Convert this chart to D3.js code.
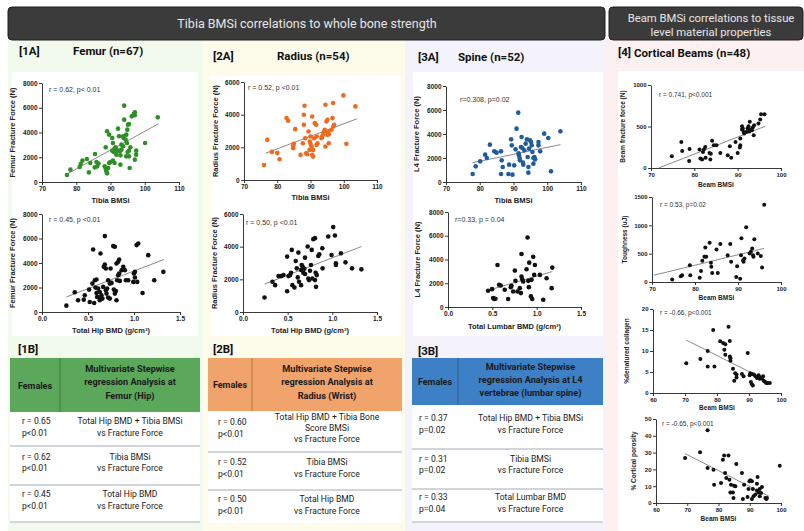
<!DOCTYPE html>
<html><head><meta charset="utf-8">
<script src="https://cdn.jsdelivr.net/npm/d3@7"></script>
<style>body{margin:0;background:#fff}svg{display:block}</style>
</head><body><script>
// ---------- DATA ----------
const femurVsTibiaBMSi = [[77.3,566],[78.3,997],[81.0,1212],[81.8,1724],[81.3,1455],[83.1,1859],[83.7,781],[84.1,1536],[85.5,2263],[85.9,1616],[86.1,1266],[85.4,1185],[88.6,2802],[89.0,4095],[88.3,1266],[88.6,1051],[88.8,862],[89.0,700],[89.3,1131],[89.6,1536],[90.0,1616],[90.7,1724],[91.2,1536],[90.5,3556],[89.6,3825],[90.7,3152],[90.5,2532],[91.0,2424],[91.7,2532],[92.2,4310],[92.5,3691],[92.7,2478],[92.9,2155],[93.2,2613],[92.9,1401],[91.5,2802],[93.7,2883],[93.8,3556],[94.0,6169],[94.0,5038],[94.6,3825],[94.4,3421],[94.9,4230],[95.1,4634],[95.4,4688],[94.8,3152],[95.0,2424],[94.6,2074],[95.4,2074],[95.6,1131],[95.4,2532],[95.8,2802],[96.2,5307],[96.8,5496],[97.1,5630],[97.1,5388],[97.1,1805],[97.5,2209],[97.5,2532],[100.1,3152],[103.8,5226],[93.7,3691],[91.7,2209],[91.2,2694],[92.3,2532],[93.2,3017],[86.5,1500]];
const femurVsTibiaFit = [[77,600],[104,4700]];

const femurVsHipBMD = [[0.265,519],[0.356,1611],[0.392,956],[0.454,1010],[0.465,1365],[0.512,1829],[0.519,819],[0.548,2320],[0.556,5105],[0.567,737],[0.574,2593],[0.592,2648],[0.592,1556],[0.599,1229],[0.610,1911],[0.621,1174],[0.628,1638],[0.636,4778],[0.646,1365],[0.657,1092],[0.665,2048],[0.672,3686],[0.683,6197],[0.683,3877],[0.694,3549],[0.694,1775],[0.701,1502],[0.708,1911],[0.719,1174],[0.737,1092],[0.737,2320],[0.745,3549],[0.756,2375],[0.774,5378],[0.792,5324],[0.781,1829],[0.792,1502],[0.803,1720],[0.810,3959],[0.828,4095],[0.839,4286],[0.817,2594],[0.828,3003],[0.839,3140],[0.846,2539],[0.865,3413],[0.883,3686],[0.890,3467],[0.901,3413],[0.912,2594],[0.937,2594],[0.992,2457],[0.999,3140],[1.010,3276],[1.010,2812],[1.028,5460],[1.046,5597],[1.035,2457],[1.093,1556],[1.155,4641],[1.220,2594],[1.319,3276],[0.628,956],[0.581,1993],[0.719,2594],[0.810,956]];
const femurVsHipFit = [[0.265,1229],[1.326,4286]];

const radiusVsTibiaBMSi = [[76.0,922],[77.0,2458],[78.4,1720],[80.0,1659],[80.7,1270],[82.8,3789],[83.3,3625],[84.8,2110],[84.8,1946],[85.0,2212],[85.4,3113],[87.0,1536],[87.7,2253],[88.0,3379],[88.0,3994],[88.2,4546],[88.4,2560],[88.7,1638],[89.0,1577],[89.4,2970],[89.7,1843],[89.8,2355],[90.0,2212],[90.0,2662],[90.3,2048],[90.5,3891],[90.5,1536],[90.8,1433],[90.8,1843],[91.1,2560],[91.3,3482],[91.7,3379],[91.8,2150],[91.9,2662],[92.1,2253],[93.3,2560],[93.5,2662],[93.8,2806],[94.1,2970],[94.3,3072],[94.5,2048],[94.5,4608],[94.8,3584],[95.1,3686],[95.1,2765],[95.3,2929],[95.5,2806],[95.5,2253],[96.3,3072],[96.6,3789],[96.8,4710],[96.9,3277],[97.1,3379],[99.9,5181],[100.8,2212],[103.5,4505]];
const radiusVsTibiaFit = [[76.5,1640],[104,3750]];

const radiusVsHipBMD = [[0.241,884],[0.330,1850],[0.360,1644],[0.397,2199],[0.427,2199],[0.453,2260],[0.494,3391],[0.494,1274],[0.527,2260],[0.538,2404],[0.546,3802],[0.553,1644],[0.576,1500],[0.590,3124],[0.602,2672],[0.613,2117],[0.620,3637],[0.627,1850],[0.650,1644],[0.650,2569],[0.657,2877],[0.668,2774],[0.676,2404],[0.687,2651],[0.694,2322],[0.694,3329],[0.724,4007],[0.731,2055],[0.739,1952],[0.750,2528],[0.761,2877],[0.769,3802],[0.776,2055],[0.787,4459],[0.806,4521],[0.806,1952],[0.813,2404],[0.817,1541],[0.825,2260],[0.843,3432],[0.854,3535],[0.888,3905],[0.891,2672],[0.954,4624],[0.991,3494],[1.010,5199],[1.029,4685],[1.040,2980],[1.040,2877],[1.096,3596],[1.147,3041],[1.221,2672],[1.325,2610],[0.509,2199]];
const radiusVsHipFit = [[0.241,1706],[1.325,4007]];

const spineVsTibiaBMSi = [[77.9,667],[78.8,1306],[80.1,1722],[81.6,2278],[82.1,2000],[83.0,3111],[84.3,2556],[85.0,2444],[86.3,2556],[86.5,1806],[86.8,1250],[86.3,667],[88.7,1444],[88.5,667],[89.3,3556],[89.5,3056],[89.7,611],[90.2,1389],[90.6,2722],[90.9,4444],[91.4,5778],[91.6,2222],[91.8,2000],[91.9,1806],[92.2,2917],[92.4,3750],[92.6,2833],[92.8,1611],[92.9,1444],[93.2,2639],[94.0,3556],[94.2,2083],[94.4,1250],[94.4,778],[94.6,2778],[94.9,3472],[95.2,3333],[95.4,3056],[95.6,2500],[95.9,2000],[95.9,1528],[96.2,2083],[96.4,1889],[97.4,3056],[97.4,3333],[97.9,2556],[99.1,4028],[100.3,3667],[101.1,889],[103.9,4222],[93.6,3194],[91.5,2400]];
const spineVsTibiaFit = [[77.9,1611],[103.9,3111]];

const spineVsLumbarBMD = [[0.452,1366],[0.497,1505],[0.509,752],[0.520,669],[0.535,697],[0.558,3539],[0.576,1867],[0.595,1812],[0.640,1449],[0.678,669],[0.708,1672],[0.716,1784],[0.735,1310],[0.754,3066],[0.761,2202],[0.784,1310],[0.810,1589],[0.822,1171],[0.829,2564],[0.829,4459],[0.837,2341],[0.848,2146],[0.886,3177],[0.897,5853],[0.905,2202],[0.912,1672],[0.916,3734],[0.935,892],[0.950,669],[0.961,4236],[0.972,2703],[0.980,3539],[1.036,2703],[1.074,613],[1.112,2425],[1.169,1589],[1.176,3316],[0.942,2285]];
const spineVsLumbarFit = [[0.497,1505],[1.176,2982]];

const beamForceVsBMSi = [[74.8,141],[77.0,314],[77.2,206],[78.9,230],[78.8,85],[81.2,222],[81.4,113],[81.8,101],[82.0,194],[82.2,222],[82.5,254],[82.6,125],[83.5,181],[83.7,101],[83.8,173],[84.1,327],[84.5,274],[85.1,274],[86.0,181],[87.7,153],[88.2,262],[88.5,125],[89.5,314],[90.0,181],[90.5,246],[90.6,274],[90.6,355],[91.0,504],[91.0,464],[91.2,476],[91.4,435],[91.5,415],[92.0,435],[92.3,476],[92.5,504],[92.8,556],[92.9,464],[93.3,456],[93.5,488],[93.7,395],[93.8,516],[94.8,536],[95.2,585],[95.4,649],[96.2,649],[92.7,440]];
const beamForceFit = [[71.8,0],[96.4,504]];

const toughnessVsBMSi = [[74.7,42],[76.7,101],[77.0,119],[78.8,296],[78.9,119],[81.1,77],[81.4,196],[81.7,374],[82.2,445],[82.4,611],[82.6,445],[83.4,694],[83.7,338],[83.8,267],[84.0,160],[85.0,575],[85.3,160],[85.9,670],[87.6,474],[88.2,670],[88.4,356],[89.6,89],[89.8,279],[90.5,59],[90.7,474],[90.8,771],[91.2,385],[91.3,356],[91.5,415],[91.9,966],[92.7,504],[93.0,534],[93.3,593],[93.5,474],[93.6,445],[93.8,753],[94.6,504],[95.3,457],[95.6,255],[96.1,1364]];
const toughnessFit = [[70.4,119],[96.1,593]];

const collagenVsBMSi = [[70.4,7.1],[74.8,8.1],[77.1,10.0],[77.1,6.3],[78.8,15.0],[79.2,6.3],[81.0,12.3],[81.9,11.9],[82.3,10.3],[82.6,11.6],[82.6,9.1],[83.6,15.8],[84.0,12.4],[84.0,8.7],[84.2,8.3],[84.2,7.7],[85.0,5.8],[85.4,2.9],[85.7,4.7],[86.1,4.4],[86.1,3.7],[87.8,4.5],[88.3,4.0],[89.6,9.5],[90.2,4.2],[90.4,4.7],[90.6,2.6],[90.9,2.1],[91.2,1.8],[90.9,4.5],[91.5,4.4],[92.0,4.0],[92.5,3.6],[93.0,4.2],[93.3,3.4],[93.8,3.7],[94.4,4.0],[94.6,2.9],[95.1,2.6],[95.4,2.4],[95.8,2.4],[96.5,2.4],[94.1,3.4]];
const collagenFit = [[70.4,12.6],[90.5,4.9]];

const porosityVsBMSi = [[69.3,26.8],[74.1,30.2],[76.5,43.3],[76.5,20.8],[78.4,19.8],[78.6,10.9],[80.8,11.9],[81.4,25.8],[81.8,28.2],[82.1,17.9],[82.5,14.9],[83.2,28.2],[83.5,13.9],[83.8,6.3],[84.0,10.9],[84.6,6.3],[84.8,3.0],[85.0,10.3],[85.4,9.9],[85.7,23.2],[87.5,17.9],[87.8,2.4],[88.2,10.9],[89.3,3.6],[89.9,12.9],[90.2,13.5],[90.7,2.4],[90.7,12.9],[91.0,8.3],[91.2,4.0],[91.8,5.0],[92.3,7.5],[92.5,15.5],[92.8,6.3],[93.2,8.3],[93.2,4.0],[93.6,6.0],[93.9,9.5],[92.3,11.5],[95.0,3.0],[95.3,2.4],[95.5,3.0],[99.6,22.2],[89.6,8.3]];
const porosityFit = [[69.3,29.4],[96.1,4.0]];

const bmsiTicks = [70,80,90,100,110];
const bmdTicks = [0,0.5,1.0,1.5];
const force8000Ticks = [0,2000,4000,6000,8000];
const force6000Ticks = [0,2000,4000,6000];
const beamBmsiTicks = [70,80,90,100];
const beamBmsiTicks60 = [60,70,80,90,100];
const beamForceTicks = [0,500,1000];
const toughnessTicks = [0,500,1000,1500];
const collagenTicks = [0,5,10,15,20];
const porosityTicks = [0,10,20,30,40,50];

const tableFemur = [
  {r:'r = 0.65', p:'p<0.01', desc:['Total Hip BMD + Tibia BMSi','vs Fracture Force']},
  {r:'r = 0.62', p:'p<0.01', desc:['Tibia BMSi','vs Fracture Force']},
  {r:'r = 0.45', p:'p<0.01', desc:['Total Hip BMD','vs Fracture Force']}];
const tableRadius = [
  {r:'r = 0.60', p:'p<0.01', desc:['Total Hip BMD + Tibia Bone','Score BMSi','vs Fracture Force']},
  {r:'r = 0.52', p:'p<0.01', desc:['Tibia BMSi','vs Fracture Force']},
  {r:'r = 0.50', p:'p<0.01', desc:['Total Hip BMD','vs Fracture Force']}];
const tableSpine = [
  {r:'r = 0.37', p:'p=0.02', desc:['Total Hip BMD + Tibia BMSi','vs Fracture Force']},
  {r:'r = 0.31', p:'p=0.02', desc:['Tibia BMSi','vs Fracture Force']},
  {r:'r = 0.33', p:'p=0.04', desc:['Total Lumbar BMD','vs Fracture Force']}];

// ---------- DRAW ----------
const svg = d3.select('body').append('svg').attr('width',804).attr('height',531);
const HF = 'Roboto, "Liberation Sans", sans-serif';
const PF = '"Liberation Sans", Arial, sans-serif';

[{x:8,w:195,f:'#f2f9ed'},{x:203,w:202,f:'#fdfbea'},{x:405,w:201,f:'#f4f3fc'},{x:606,w:198,f:'#fdf0f0'}]
 .forEach(c=>svg.append('rect').attr('x',c.x).attr('y',38).attr('width',c.w).attr('height',493).attr('fill',c.f));
[{x:12,y:72,w:186,h:264},{x:211,y:76,w:190,h:260},{x:413,y:72,w:190,h:264},{x:618,y:71,w:186,h:460}]
 .forEach(c=>svg.append('rect').attr('x',c.x).attr('y',c.y).attr('width',c.w).attr('height',c.h).attr('fill','#fff'));

svg.append('rect').attr('x',8).attr('y',7).attr('width',597).attr('height',33).attr('rx',4).attr('fill','#3b3b3b').attr('stroke','#1e1e1e');
svg.append('text').attr('x',307).attr('y',28).attr('text-anchor','middle').attr('font-family',HF).attr('font-size',12.5).attr('fill','#e6e6e6').text('Tibia BMSi correlations to whole bone strength');
svg.append('rect').attr('x',609).attr('y',7).attr('width',194).attr('height',33).attr('rx',4).attr('fill','#3b3b3b').attr('stroke','#1e1e1e');
svg.append('text').attr('x',711).attr('y',22).attr('text-anchor','middle').attr('font-family',HF).attr('font-size',11.3).attr('fill','#e6e6e6').text('Beam BMSi correlations to tissue');
svg.append('text').attr('x',711).attr('y',35.5).attr('text-anchor','middle').attr('font-family',HF).attr('font-size',11.3).attr('fill','#e6e6e6').text('level material properties');

const secLabels = [
 {t:'[1A]',x:19,y:55},{t:'Femur (n=67)',x:73,y:55},
 {t:'[2A]',x:213,y:60},{t:'Radius (n=54)',x:277,y:60},
 {t:'[3A]',x:418,y:61},{t:'Spine (n=52)',x:458,y:61},
 {t:'[4]',x:618,y:56},{t:'Cortical Beams (n=48)',x:634,y:57},
 {t:'[1B]',x:18,y:353},{t:'[2B]',x:213,y:353},{t:'[3B]',x:418,y:355}];
secLabels.forEach(s=>svg.append('text').attr('x',s.x).attr('y',s.y).attr('font-family',HF).attr('font-weight','bold').attr('font-size',11.5).attr('fill','#111').text(s.t));

function scatter(c){
  const g = svg.append('g');
  const x = d3.scaleLinear().domain(c.xd).range(c.xr);
  const y = d3.scaleLinear().domain(c.yd).range(c.yr);
  const ax = g.append('g').attr('transform',`translate(0,${c.yr[0]})`)
    .call(d3.axisBottom(x).tickValues(c.xt).tickFormat(c.xf||d3.format('d')).tickSize(3).tickSizeOuter(0).tickPadding(1.5));
  const ay = g.append('g').attr('transform',`translate(${c.xr[0]},0)`)
    .call(d3.axisLeft(y).tickValues(c.yt).tickFormat(c.yf||d3.format('d')).tickSize(3).tickSizeOuter(0).tickPadding(1.5));
  [ax,ay].forEach(a=>{
    a.selectAll('text').attr('font-size',c.tfs||6.5).attr('font-weight','bold').attr('font-family',PF).attr('fill','#222');
    a.selectAll('line,path').attr('stroke','#222').attr('stroke-width',0.9);
  });
  g.append('line').attr('x1',x(c.fit[0][0])).attr('y1',y(c.fit[0][1])).attr('x2',x(c.fit[1][0])).attr('y2',y(c.fit[1][1]))
    .attr('stroke','#8a8a8a').attr('stroke-width',1);
  g.selectAll('circle.p').data(c.data).enter().append('circle')
    .attr('cx',d=>x(d[0])).attr('cy',d=>y(d[1])).attr('r',c.r||2.3).attr('fill',c.color);
  g.append('text').attr('x',(c.xr[0]+c.xr[1])/2).attr('y',c.yr[0]+c.xtOff).attr('text-anchor','middle')
    .attr('font-family',PF).attr('font-weight','bold').attr('font-size',c.tts||7.5).attr('fill','#222').text(c.xTitle);
  g.append('text').attr('transform',`translate(${c.xr[0]-c.ytOff},${(c.yr[0]+c.yr[1])/2}) rotate(-90)`).attr('text-anchor','middle')
    .attr('font-family',PF).attr('font-weight','bold').attr('font-size',c.tts||7.5).attr('fill','#222').text(c.yTitle);
  g.append('text').attr('x',c.xr[0]+c.ann[0]).attr('y',c.yr[1]+c.ann[1]).attr('font-family',PF).attr('font-size',c.afs||7)
    .attr('fill','#333').text(c.annText);
}

const green='#2e8f26', orange='#ef6a1f', blue='#1f5c9e', black='#111';
scatter({data:femurVsTibiaBMSi,fit:femurVsTibiaFit,xd:[70,110],yd:[0,8000],xr:[42,179],yr:[182,83],xt:bmsiTicks,yt:force8000Ticks,
  color:green,xTitle:'Tibia BMSi',yTitle:'Femur Fracture Force (N)',xtOff:21,ytOff:27,ann:[7,8.5],annText:'r = 0.62, p< 0.01'});
scatter({data:femurVsHipBMD,fit:femurVsHipFit,xd:[0,1.5],yd:[0,8000],xr:[42,180],yr:[312,214],xt:bmdTicks,yt:force8000Ticks,xf:d3.format('.1f'),
  color:black,xTitle:'Total Hip BMD (g/cm³)',yTitle:'Femur Fracture Force (N)',xtOff:21,ytOff:27,ann:[7,8],annText:'r = 0.45, p <0.01'});
scatter({data:radiusVsTibiaBMSi,fit:radiusVsTibiaFit,xd:[70,110],yd:[0,6000],xr:[244,377],yr:[180,82],xt:bmsiTicks,yt:force6000Ticks,
  color:orange,xTitle:'Tibia BMSi',yTitle:'Radius Fracture Force (N)',xtOff:20,ytOff:26,ann:[4,7.5],annText:'r = 0.52, p <0.01'});
scatter({data:radiusVsHipBMD,fit:radiusVsHipFit,xd:[0,1.5],yd:[0,6000],xr:[243,377],yr:[312,214],xt:bmdTicks,yt:force6000Ticks,xf:d3.format('.1f'),
  color:black,xTitle:'Total Hip BMD (g/cm³)',yTitle:'Radius Fracture Force (N)',xtOff:21,ytOff:26,ann:[3,11],annText:'r = 0.50, p <0.01'});
scatter({data:spineVsTibiaBMSi,fit:spineVsTibiaFit,xd:[70,110],yd:[0,8000],xr:[446,581],yr:[182,86],xt:bmsiTicks,yt:force8000Ticks,
  color:blue,xTitle:'Tibia BMSi',yTitle:'L4 Fracture Force (N)',xtOff:21,ytOff:27,ann:[14,15.5],annText:'r=0.308, p=0.02'});
scatter({data:spineVsLumbarBMD,fit:spineVsLumbarFit,xd:[0,1.5],yd:[0,8000],xr:[448,581],yr:[307,212],xt:bmdTicks,yt:force8000Ticks,xf:d3.format('.1f'),
  color:black,xTitle:'Total Lumbar BMD (g/cm³)',yTitle:'L4 Fracture Force (N)',xtOff:22,ytOff:28,ann:[7,9.5],annText:'r=0.33, p = 0.04'});

scatter({data:beamForceVsBMSi,fit:beamForceFit,xd:[70,100],yd:[0,1000],xr:[651,781],yr:[168,85],xt:beamBmsiTicks,yt:beamForceTicks,
  color:black,r:2,tfs:6,tts:6.5,afs:6.5,xTitle:'Beam BMSi',yTitle:'Beam fracture force (N)',xtOff:19,ytOff:26,ann:[8,12],annText:'r = 0.741, p<0.001'});
scatter({data:toughnessVsBMSi,fit:toughnessFit,xd:[70,100],yd:[0,1500],xr:[652,781],yr:[282,197],xt:beamBmsiTicks,yt:toughnessTicks,
  color:black,r:2,tfs:6,tts:6.5,afs:6.5,xTitle:'Beam BMSi',yTitle:'Toughness (uJ)',xtOff:18,ytOff:25,ann:[8,10],annText:'r = 0.53, p=0.02'});
scatter({data:collagenVsBMSi,fit:collagenFit,xd:[60,100],yd:[0,20],xr:[653,781],yr:[393,309],xt:beamBmsiTicks60,yt:collagenTicks,
  color:black,r:2,tfs:6,tts:6.5,afs:6.5,xTitle:'Beam BMSi',yTitle:'%denatured collagen',xtOff:17,ytOff:24,ann:[7,6],annText:'r = -0.66, p<0.001'});
scatter({data:porosityVsBMSi,fit:porosityFit,xd:[60,100],yd:[0,50],xr:[656,781],yr:[503,419],xt:beamBmsiTicks60,yt:porosityTicks,
  color:black,r:2,tfs:6,tts:6.5,afs:6.5,xTitle:'Beam BMSi',yTitle:'% Cortical porosity',xtOff:18,ytOff:20,ann:[6,7],annText:'r = -0.65, p<0.001'});

// ---------- TABLES ----------
function table(t){
  const g = svg.append('g');
  g.append('rect').attr('x',t.x0).attr('y',t.hy1).attr('width',t.x1-t.x0).attr('height',t.bottom-t.hy1).attr('fill','#fff');
  g.append('rect').attr('x',t.x0).attr('y',t.hy0).attr('width',t.x1-t.x0).attr('height',t.hy1-t.hy0).attr('fill',t.color);
  g.append('line').attr('x1',t.dx).attr('x2',t.dx).attr('y1',t.hy0).attr('y2',t.hy1).attr('stroke',t.dcol).attr('stroke-width',1);
  g.append('text').attr('x',(t.x0+t.dx)/2).attr('y',(t.hy0+t.hy1)/2+3.5).attr('text-anchor','middle')
    .attr('font-family',HF).attr('font-weight','bold').attr('font-size',9).attr('fill','#1a1a1a').text('Females');
  const cx=(t.dx+t.x1)/2;
  t.head.forEach((s,i)=>g.append('text').attr('x',cx).attr('y',t.hl[i]).attr('text-anchor','middle')
    .attr('font-family',HF).attr('font-weight','bold').attr('font-size',9.2).attr('fill','#1a1a1a').text(s));
  t.rows.forEach((r,i)=>{
    const L=t.rowY[i];
    g.append('text').attr('x',t.rx).attr('y',L.rp[0]).attr('font-family',HF).attr('font-size',8.6).attr('fill','#222').text(r.r);
    g.append('text').attr('x',t.rx).attr('y',L.rp[1]).attr('font-family',HF).attr('font-size',8.6).attr('fill','#222').text(r.p);
    r.desc.forEach((s,j)=>g.append('text').attr('x',cx).attr('y',L.d[j]).attr('text-anchor','middle')
      .attr('font-family',HF).attr('font-size',8.6).attr('fill','#222').text(s));
  });
  t.seps.forEach(s=>g.append('line').attr('x1',t.x0).attr('x2',t.x1).attr('y1',s).attr('y2',s).attr('stroke','#8c98a8').attr('stroke-width',0.8));
}
table({x0:10,x1:200,dx:60,hy0:358,hy1:412,bottom:523,color:'#5ca85a',dcol:'#3d7a3c',rx:22,
  head:['Multivariate Stepwise','regression Analysis at','Femur (Hip)'],hl:[372,385,399],rows:tableFemur,
  rowY:[{rp:[424,436],d:[424,436]},{rp:[460,471],d:[460,471]},{rp:[497,509],d:[497,509]}],seps:[446,485,522]});
table({x0:208,x1:402,dx:252,hy0:358,hy1:411,bottom:523,color:'#f1a36c',dcol:'#b8733f',rx:218,
  head:['Multivariate Stepwise','regression Analysis at','Radius (Wrist)'],hl:[372,385,399],rows:tableRadius,
  rowY:[{rp:[425,437],d:[420,431,442]},{rp:[465,477],d:[465,477]},{rp:[502,514],d:[502,514]}],seps:[452,490]});
table({x0:412,x1:603,dx:458,hy0:358,hy1:405,bottom:523,color:'#3d80c6',dcol:'#2a5f98',rx:419,
  head:['Multivariate Stepwise','regression Analysis at L4','vertebrae (lumbar spine)'],hl:[370,383,396],rows:tableSpine,
  rowY:[{rp:[421,433],d:[421,433]},{rp:[462,473],d:[462,473]},{rp:[500,512],d:[500,512]}],seps:[449,489,522]});
</script></body></html>
